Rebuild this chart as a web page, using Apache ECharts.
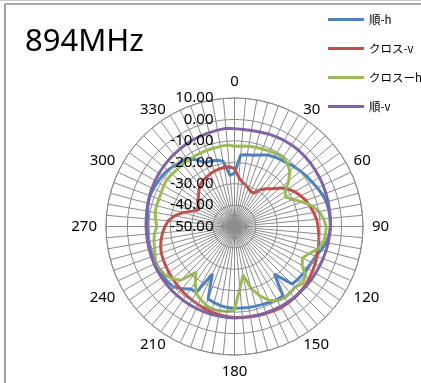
<!DOCTYPE html>
<html>
<head>
<meta charset="utf-8">
<script src="https://cdn.jsdelivr.net/npm/echarts@6/dist/echarts.min.js"></script>
<style>
  html, body { margin: 0; padding: 0; background: #ffffff; }
  #chart { width: 421px; height: 383px; }
</style>
</head>
<body>
<div id="chart"></div>
<script>
// Measurement angles (degrees, clockwise from top)
const angles = [0, 5, 10, 15, 20, 25, 30, 35, 40, 45, 50, 55,
  60, 65, 70, 75, 80, 85, 90, 95, 100, 105, 110, 115,
  120, 125, 130, 135, 140, 145, 150, 155, 160, 165, 170, 175,
  180, 185, 190, 195, 200, 205, 210, 215, 220, 225, 230, 235,
  240, 245, 250, 255, 260, 265, 270, 275, 280, 285, 290, 295,
  300, 305, 310, 315, 320, 325, 330, 335, 340, 345, 350, 355];

// Received level (dB) per angle
const junH = [-25, -16.5, -16, -15.5, -14.5, -13.2, -12.5, -12, -11.5, -10.5, -9.8, -9,
  -8.3, -7.3, -6.3, -5.6, -5.3, -5.2, -5.2, -5.6, -6.5, -8, -9.6, -10.3,
  -10.8, -11.2, -11.5, -12, -21, -10.5, -10.5, -11, -11.3, -11.5, -11.6, -11.8,
  -11.8, -12, -12.5, -13.2, -14, -25.5, -14.5, -14.4, -12, -10, -9.5, -9.3,
  -9.2, -9.1, -9.1, -9.1, -9.2, -9.4, -9.5, -9.2, -8.8, -8.3, -8, -8.2,
  -8.5, -8.8, -9.2, -10, -10.8, -11.2, -14, -17, -17.6, -18, -19, -26];

const crossV = [-23, -27, -29, -30, -31, -32, -32, -29, -27, -25, -22, -19.5,
  -17.5, -16, -14.5, -13.5, -12.5, -11.5, -11, -10.5, -10, -9.5, -9, -8.5,
  -8, -7.5, -7, -6.8, -6.5, -6.4, -6.3, -6.5, -6.8, -7, -7.2, -7.4,
  -7.5, -7.8, -8.2, -8.7, -9.2, -9.8, -10.3, -10.8, -11.3, -11.8, -12.2, -12.6,
  -13, -13.3, -13.6, -14.3, -15.2, -16.3, -17.5, -19, -21.5, -25, -29, -31.5,
  -30.5, -29, -28, -26.5, -25, -24, -23.5, -23, -22.5, -22.2, -22, -22];

const crossH = [-12.5, -12.3, -12, -11.7, -11.5, -11.2, -10.8, -10.5, -11.5, -13.5, -17, -21,
  -22.5, -20, -16.5, -12.5, -10, -8.2, -7.2, -7.3, -7.8, -9.5, -13, -15,
  -13.5, -9.5, -8.5, -10, -9.5, -9.2, -10, -12, -15.5, -20, -27, -21,
  -11, -10.2, -10, -10.1, -11, -12.5, -14, -18, -22, -14.5, -12, -10.5,
  -9.8, -9.2, -10.5, -11.3, -11.8, -12.5, -13.7, -13, -12.4, -12.3, -12.5, -12.3,
  -11.8, -11.6, -11.9, -12.2, -12.2, -12.2, -12.2, -12.2, -12.2, -12.2, -12, -11.8];

const junV = [-4.3, -4.5, -4.5, -4.3, -4, -3.8, -3.6, -3.5, -3.5, -3.6, -3.8, -4,
  -4.2, -4.4, -4.6, -4.8, -5, -5.1, -5.2, -5.4, -5.6, -5.8, -6, -6.2,
  -6.3, -6.4, -6.5, -6.6, -6.7, -6.8, -6.9, -7, -7.1, -7.2, -7.3, -7.3,
  -7.3, -7.4, -7.5, -7.6, -7.7, -7.8, -7.9, -8, -8.1, -8.2, -8.3, -8.4,
  -8.5, -8.6, -8.7, -8.8, -8.8, -8.8, -8.7, -8.6, -8.4, -8.1, -7.8, -7.5,
  -7.2, -6.9, -6.6, -6.3, -6, -5.7, -5.4, -5.1, -4.9, -4.6, -4.3, -4];

const seriesNames = ['順-h', 'クロス-v', 'クロスーh', '順-v'];
const seriesColors = ['#4F81BD', '#C0504D', '#9BBB59', '#8064A2'];
const seriesValues = [junH, crossV, crossH, junV];

// Radial scale
const rMin = -50, rMax = 10, rStep = 10;

// Closed polar loop: [radius, angle] pairs, repeating the first point at 360°
function loop(values) {
  const pts = angles.map((a, i) => [values[i], a]);
  pts.push([values[0], 360]);
  return pts;
}

// Angle labels every 30°; diagonal labels are nudged toward the ring
const labelStyleOf = { 30: 'dn', 60: 'dn', 300: 'dn', 330: 'dn', 120: 'up5', 240: 'up5', 150: 'up8', 210: 'up8' };
function angleLabel(v) {
  if (v % 30 !== 0 || v >= 360) return '';
  const s = labelStyleOf[v];
  return s ? '{' + s + '|' + v + '}' : String(v);
}

const labelFont = { fontFamily: 'Noto Sans', fontSize: 15, color: '#000000' };
const gridColor = '#8c8c8c';
const chart = echarts.init(document.getElementById('chart'), null, { renderer: 'canvas' });

chart.setOption({
  backgroundColor: '#ffffff',
  animation: false,
  title: {
    text: '894MHz',
    left: 20,
    top: 22,
    textStyle: { fontFamily: 'Noto Sans', fontSize: 31, fontWeight: 'normal', color: '#000000' }
  },
  legend: {
    orient: 'vertical',
    left: 323,
    top: 7,
    icon: 'rect',
    itemWidth: 36,
    itemHeight: 3,
    itemGap: 14,
    textStyle: { fontFamily: 'Noto Sans CJK JP', fontSize: 11.5, color: '#000000', lineHeight: 15 },
    data: seriesNames
  },
  polar: {
    center: [234.5, 226.5],
    radius: 128.5
  },
  angleAxis: {
    type: 'value',
    min: 0,
    max: 360,
    interval: 5,
    startAngle: 90,
    clockwise: true,
    axisLine: { show: true, lineStyle: { color: gridColor, width: 1 } },
    axisTick: { show: false },
    axisLabel: Object.assign({
      margin: 9,
      formatter: angleLabel,
      rich: {
        dn: Object.assign({ padding: [0, 0, -10, 0] }, labelFont),
        up5: Object.assign({ padding: [-5, 0, 0, 0] }, labelFont),
        up8: Object.assign({ padding: [-8, 0, 0, 0] }, labelFont)
      }
    }, labelFont),
    splitLine: { show: true, lineStyle: { color: gridColor, width: 1 } }
  },
  radiusAxis: {
    type: 'value',
    min: rMin,
    max: rMax,
    interval: rStep,
    z: 10,
    axisLine: { show: false },
    axisTick: { show: false },
    axisLabel: Object.assign({
      margin: 21,
      formatter: v => v.toFixed(2)
    }, labelFont),
    splitLine: { show: true, lineStyle: { color: gridColor, width: 1 } }
  },
  graphic: [
    { type: 'line', shape: { x1: 0, y1: 0.5, x2: 421, y2: 0.5 }, style: { stroke: '#c8c8c8', lineWidth: 1 } },
    { type: 'line', shape: { x1: 5, y1: 4, x2: 421, y2: 4 }, style: { stroke: '#8c8c8c', lineWidth: 1.5 } },
    { type: 'line', shape: { x1: 5, y1: 4, x2: 5, y2: 383 }, style: { stroke: '#a0a0a0', lineWidth: 2 } }
  ],
  series: seriesValues.map((vals, i) => ({
    name: seriesNames[i],
    type: 'line',
    coordinateSystem: 'polar',
    data: loop(vals),
    showSymbol: false,
    symbol: 'none',
    smooth: false,
    color: seriesColors[i],
    lineStyle: { color: seriesColors[i], width: 3 },
    z: 2 + i
  }))
});
</script>
</body>
</html>
